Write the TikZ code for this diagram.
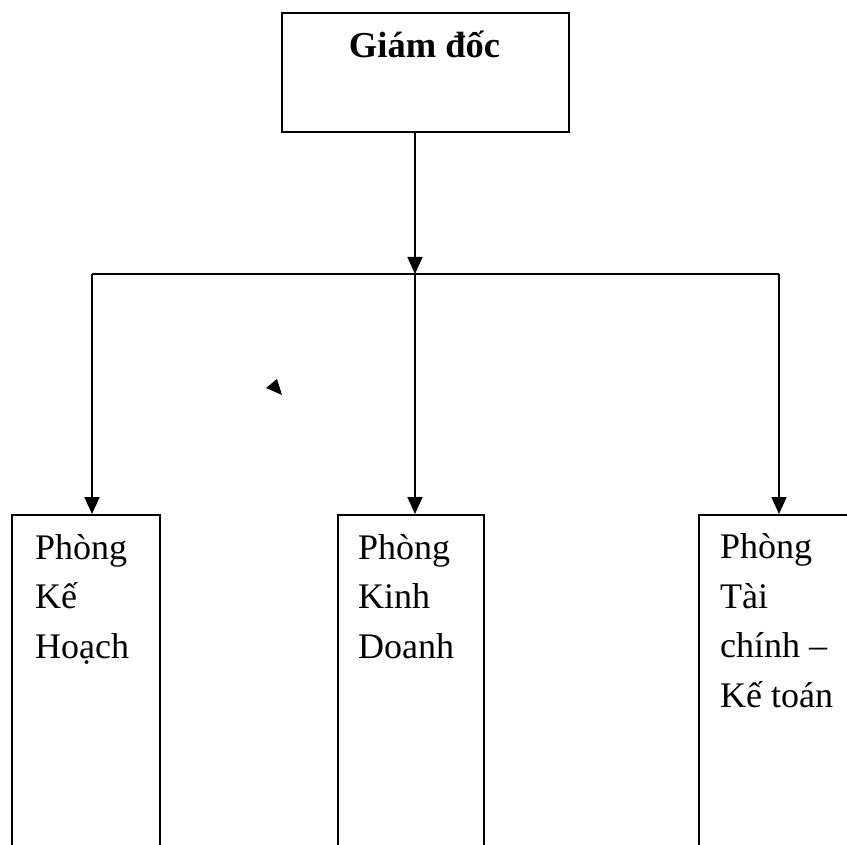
\documentclass[tikz,border=0pt]{standalone}
\usepackage{fontspec}
\setmainfont{Liberation Serif}
\usetikzlibrary{arrows.meta}
\begin{document}
\begin{tikzpicture}[x=1pt,y=-1pt,
  box/.style={draw,line width=1.8pt,inner sep=0pt,anchor=north west},
  lbl/.style={font=\fontsize{36}{49.5}\selectfont,align=left,anchor=base west,inner sep=0pt},
  head/.style={font=\fontsize{36.5}{44}\selectfont\bfseries,anchor=base,inner sep=0pt},
  link/.style={line width=1.8pt,-{Triangle[width=15pt,length=17pt]}},
  bar/.style={line width=1.8pt}]
\useasboundingbox[clip] (0,0) rectangle (847,845);
\fill[white] (0,0) rectangle (847,845);

% director
\node[box,minimum width=287pt,minimum height=119pt] (gd) at (281,12) {};
\node[head] (gdt) at (424.5,58) {Giám đốc};

% departments (boxes run past the lower edge)
\node[box,minimum width=148pt,minimum height=400pt] (pk) at (11,514) {};
\node[box,minimum width=146pt,minimum height=400pt] (kd) at (337,514) {};
\node[box,minimum width=200pt,minimum height=400pt] (tc) at (698,514) {};

% department names, anchored at the baseline of their last line
\node[lbl] (pkt) at (35,658) {Phòng\\Kế\\Hoạch};
\node[lbl] (kdt) at (358,658) {Phòng\\Kinh\\Doanh};
\node[lbl] (tct) at (720,707) {Phòng\\Tài\\chính –\\Kế toán};

% connectors
\coordinate (hub) at (415,274);
\coordinate (hl) at (92,274);
\coordinate (hr) at (779,274);
\draw[link] (gd.south -| hub) -- (hub);
\draw[bar] (hl) -- (hr);
\draw[link] (hl) -- (hl |- pk.north);
\draw[link] (hub) -- (hub |- kd.north);
\draw[link] (hr) -- (hr |- tc.north);

% loose arrow tip
\fill (266,388) -- (277,379) -- (282,395) -- cycle;
\end{tikzpicture}
\end{document}
